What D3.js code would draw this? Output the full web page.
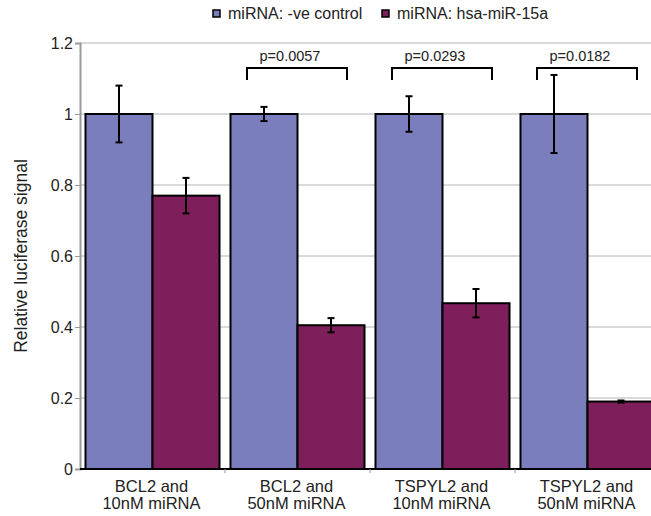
<!DOCTYPE html>
<html>
<head>
<meta charset="utf-8">
<script src="https://cdn.jsdelivr.net/npm/d3@7/dist/d3.min.js"></script>
<style>
  body { margin: 0; background: #fff; }
  svg { display: block; font-family: "Liberation Sans", Arial, sans-serif; }
</style>
</head>
<body>
<svg id="chart" width="651" height="516"></svg>
<script>
// Luciferase reporter assay: relative signal per construct and miRNA dose
const categories = [["BCL2 and", "10nM miRNA"], ["BCL2 and", "50nM miRNA"],
                    ["TSPYL2 and", "10nM miRNA"], ["TSPYL2 and", "50nM miRNA"]];
const seriesNames = ["miRNA: -ve control", "miRNA: hsa-miR-15a"];
const controlValues = [1, 1, 1, 1];
const controlErrors = [0.08, 0.02, 0.05, 0.11];
const mirValues = [0.77, 0.405, 0.467, 0.19];
const mirErrors = [0.05, 0.02, 0.04, 0.003];
const pLabels = [null, "p=0.0057", "p=0.0293", "p=0.0182"];
const yTicks = [0, 0.2, 0.4, 0.6, 0.8, 1, 1.2];
const colors = ["#7b7ebd", "#7e1f5c"];

const svg = d3.select("#chart");
const margin = { left: 80, top: 43, bottom: 469 };
const plotRight = 660;
const textColor = "#222";

const x = d3.scaleBand().domain(d3.range(categories.length))
  .range([margin.left, plotRight]).paddingInner(0).paddingOuter(0);
const inner = d3.scaleBand().domain([0, 1]).range([0, x.bandwidth()])
  .paddingOuter(0.082).paddingInner(0);
const y = d3.scaleLinear().domain([0, 1.2]).range([margin.bottom, margin.top]);

// gridlines
svg.append("g").selectAll("line").data(yTicks.slice(1)).join("line")
  .attr("x1", margin.left).attr("x2", plotRight)
  .attr("y1", d => y(d)).attr("y2", d => y(d))
  .attr("stroke", "#b4b4b4").attr("stroke-width", 1);

// y axis
const yAxis = d3.axisLeft(y).tickValues(yTicks).tickSize(5)
  .tickFormat(d => d3.format("")(d));
const ya = svg.append("g").attr("transform", `translate(${margin.left},0)`).call(yAxis);
ya.select(".domain").attr("stroke", "#999").attr("stroke-width", 2);
ya.selectAll(".tick line").attr("stroke", "#999");
ya.selectAll(".tick text").attr("font-size", 16).attr("fill", textColor).attr("x", -7)
  .style("font-family", "Liberation Sans, Arial, sans-serif");

// bars
const data = [];
categories.forEach((c, i) => {
  data.push({ i, s: 0, v: controlValues[i], e: controlErrors[i] });
  data.push({ i, s: 1, v: mirValues[i], e: mirErrors[i] });
});
svg.append("g").selectAll("rect").data(data).join("rect")
  .attr("x", d => x(d.i) + inner(d.s))
  .attr("width", inner.bandwidth())
  .attr("y", d => y(d.v))
  .attr("height", d => y(0) - y(d.v))
  .attr("fill", d => colors[d.s])
  .attr("stroke", "#000").attr("stroke-width", 2);

// x axis baseline and category separators
svg.append("line").attr("x1", margin.left).attr("x2", plotRight)
  .attr("y1", y(0)).attr("y2", y(0)).attr("stroke", "#000").attr("stroke-width", 2);
svg.append("g").selectAll("line").data(d3.range(1, categories.length)).join("line")
  .attr("x1", d => x(d)).attr("x2", d => x(d))
  .attr("y1", y(0)).attr("y2", y(0) + 4).attr("stroke", "#999");

// error bars
const eb = svg.append("g").attr("stroke", "#000").attr("stroke-width", 2);
data.forEach(d => {
  const cx = x(d.i) + inner(d.s) + inner.bandwidth() / 2;
  const t = y(d.v + d.e), b = y(d.v - d.e);
  eb.append("line").attr("x1", cx).attr("x2", cx).attr("y1", t).attr("y2", b);
  eb.append("line").attr("x1", cx - 3.5).attr("x2", cx + 3.5).attr("y1", t).attr("y2", t);
  eb.append("line").attr("x1", cx - 3.5).attr("x2", cx + 3.5).attr("y1", b).attr("y2", b);
});

// significance brackets
pLabels.forEach((p, i) => {
  if (!p) return;
  const x0 = x(i) + 22, x1 = x(i) + 122;
  const top = 68, foot = 80;
  svg.append("path")
    .attr("d", `M${x0},${foot} L${x0},${top} L${x1},${top} L${x1},${foot}`)
    .attr("fill", "none").attr("stroke", "#000").attr("stroke-width", 2);
  svg.append("text").attr("x", (x0 + x1) / 2 - 7).attr("y", 61)
    .attr("text-anchor", "middle").attr("font-size", 14.5).attr("fill", textColor).text(p);
});

// category labels
const cl = svg.append("g").selectAll("text").data(categories).join("text")
  .attr("text-anchor", "middle").attr("font-size", 16.5).attr("fill", textColor);
cl.each(function (d, i) {
  const t = d3.select(this);
  const cx = x(i) + x.bandwidth() / 2 - 1;
  t.append("tspan").attr("x", cx).attr("y", 492).text(d[0]);
  t.append("tspan").attr("x", cx).attr("y", 509).text(d[1]);
});

// y axis title
svg.append("text")
  .attr("transform", `translate(27,${(y(0) + y(1.2)) / 2 + 0}) rotate(-90)`)
  .attr("text-anchor", "middle").attr("font-size", 17.5).attr("fill", textColor)
  .text("Relative luciferase signal");

// legend
const legendX = [213, 382];
const lg = svg.append("g");
seriesNames.forEach((name, i) => {
  lg.append("rect").attr("x", legendX[i]).attr("y", 10).attr("width", 7).attr("height", 7)
    .attr("fill", colors[i]).attr("stroke", "#000").attr("stroke-width", 1.5);
  lg.append("text").attr("x", legendX[i] + 15).attr("y", 19)
    .attr("font-size", 16).attr("fill", textColor).text(name);
});
</script>
</body>
</html>
